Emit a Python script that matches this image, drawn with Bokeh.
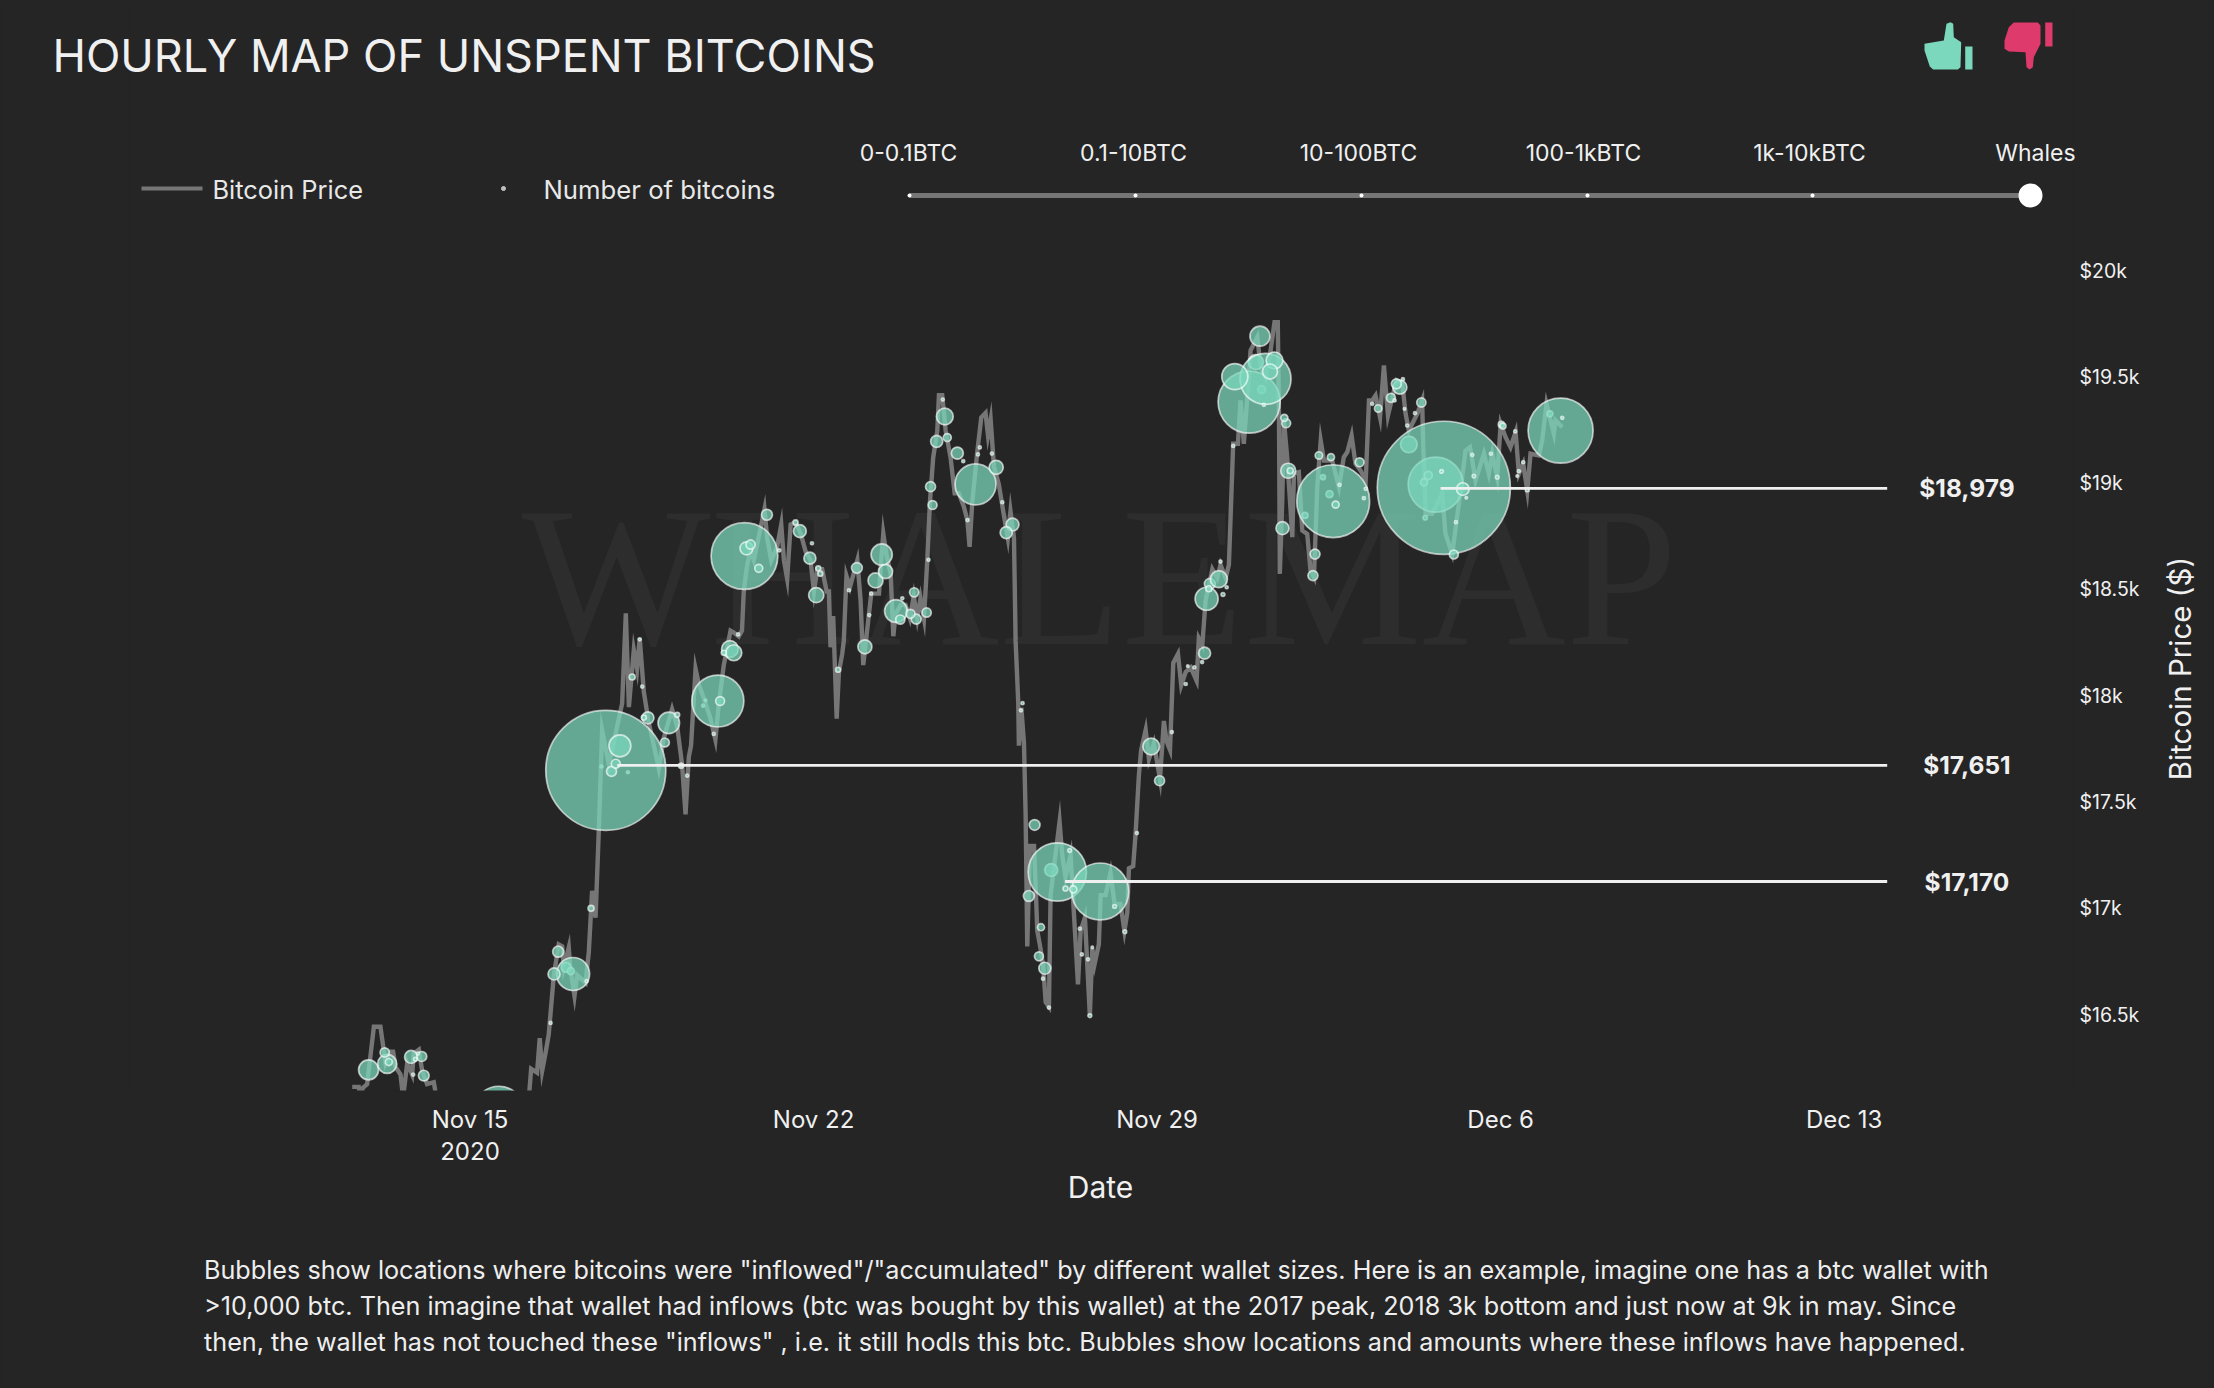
from bokeh.plotting import figure
from bokeh.models import Range1d, FixedTicker, Label
from bokeh.core.properties import value
from bokeh.embed import file_html
from bokeh.resources import INLINE
from datetime import datetime, timezone
import math

BG = "#252525"
GREEN = "#7bd8bd"
RED = "#de3a6c"
GREY = "#767676"
TXT = "#f0f0f0"
FONT = "Inter"

# ---- data: price line (hours since 15 Nov 2020 00:00 UTC, USD)
price_hours = [-57.6,-54.4,-53.5,-52.4,-50.3,-47,-43.8,-41.3,-38.9,-37.6,-36.4,-34,-32.7,-30.7,-28.3,-27.5,-25,-23.4,-21,-17.7,-16.4,-9.5,7,23,28.8,
 29.9,32.8,34.1,35.3,36.9,38.5,41,43.4,45.1,45.9,48.3,49.1,51.1,52.4,56.5,58.1,59.7,61.4,63,64.6,67.9,74.4,76.2,77.7,80.1,81.7,83,85,87.4,89.9,92.3,94.8,98.8,101.3,103.7,105.4,107,108.1,110.3,111.9,115.2,117.6,120,121.7,124.1,127.4,129,131.4,133,133.9,135.5,137.2,
 138.8,142,144,145.3,147.3,150.2,152.2,153.5,155.1,156.8,159.2,161.7,164.1,166.5,168.2,169.8,172.2,174.4,175.5,176.3,177.6,179.3,180.4,182,182.8,184.1,185.8,189.4,191,192.3,193.4,195.1,196.2,200,201.1,202.1,203.7,205.7,207,208.1,210.6,213,215.1,217,218.7,220.3,222,223.6,224.9,226.5,228.5,229.3,230.9,232.6,235,237,239,241.5,243.2,244.3,245.6,248,250,252.1,253.3,254.6,256.2,258.6,261.1,263,264.3,266,266.8,268.1,268.4,269.6,270.9,271.7,272.5,273.8,275.8,276.6,277.4,279,280.3,281.5,283.1,283.9,285.5,288.3,289.6,291.2,293.7,295.3,297.3,298.6,300.7,303.1,304.3,305.4,307.5,308.4,310.8,313.2,315.2,318.1,320,321.4,322.2,324.3,325.5,327.1,328.2,330.4,332,334.4,337.4,339.3,340.6,342.3,343.9,346.2,347.8,350,352.4,355.3,356.4,358.1,359.7,363,365.4,367,369.5,371.1,
 373.2,375.5,376.8,378.4,380,381.7,385,386.6,389,391.5,393.4,395,395.6,396,397.2,398,399.6,402.1,402.9,405.3,407,409.4,411,412.7,414.3,416,417.6,421.6,424.9,427.3,429,431.1,433,435.5,438,439.6,441.2,442.8,445,446.9,448.9,451,453.1,455.9,457.5,459.1,463.2,465.6,466.1,467.3,470.5,475.4,477,480.3,484.4,486.8,489,491.7,495.8,498.2,499.9,502.3,504,506.4,508.8,511.3,512.9,515,517,518.6,522.7,524.3,526.4,530,530.8,534.1]
price_usd = [16160,16160,16100,16155,16173,16443,16443,16272,16326,16326,16254,16218,16110,16272,16218,16317,16335,16236,16173,16182,16110,15948,15858,15950,16110,
 16245,16227,16389,16236,16317,16407,16686,16830,16821,16722,16816,16713,16587,16686,16650,16794,17082,16956,17370,17838,17676,17964,18387,17946,18216,18126,18270,18018,17874,17766,17658,17802,17937,17856,17676,17442,17712,17766,18126,18054,17964,17892,17793,17964,18144,18306,18297,18279,18306,18495,18612,18684,
 18637,18784,18878,18742,18637,18700,18805,18637,18549,18805,18815,18763,18679,18637,18490,18595,18595,18490,18490,18228,18375,17892,18112,18196,18259,18564,18511,18637,18448,18144,18238,18385,18480,18480,18637,18763,18658,18574,18280,18385,18427,18427,18364,18469,18364,18458,18364,18637,18910,19120,19246,19414,19414,19246,19120,18952,18952,18889,18826,18700,18910,19141,19309,19330,19225,19298,19078,18994,18847,18742,18868,18742,18259,17965,17765,17944,17776,17440,16820,17293,17293,17104,16894,16810,16726,16558,16537,17062,17188,17408,17251,17146,17251,16978,16642,16894,16957,16495,16810,16736,16831,17062,17062,17167,17020,17020,16894,16978,17188,17198,17356,17629,17745,17839,17702,17776,17608,17881,17786,17745,18154,18196,18049,18112,18133,18070,18270,18238,18448,18595,18553,18616,18553,18616,
 19185,19185,19389,19185,19389,19624,19686,19545,19498,19624,19757,19757,19310,18573,18918,19295,19122,18746,19044,19051,18777,18761,18589,18558,18981,19200,19106,19106,18981,19122,19146,19224,19091,19059,19012,19389,19389,19412,19310,19553,19318,19404,19483,19467,19326,19247,19326,19389,19185,18856,18856,18950,18761,18667,18965,19153,19169,19012,19138,19044,19138,19028,19279,19216,19169,19240,19044,19091,18965,19138,19130,19200,19373,19232,19295,19263]

# ---- data: bubbles (hour, USD, BTC amount)
bubble_hours = [66.4,476.2,134.2,533.3,422.1,381,287.2,308.2,121.2,472.2,389,14.1,247.2,50.4,
 374,360.2,208.3,73.3,97.2,201.3,-49.6,-40.5,232.2,127.1,129,333.1,366.2,384.3,391.2,393.4,386.3,400.1,459.1,
 135.2,-28.8,284.2,69.2,71.3,137.2,454.7,453,169.3,193.1,203.2,198.3,397.3,228.2,238.3,257.3,265.3,262.2,281.1,359.2,161.3,166.2,
 145.2,189.2,276.1,273.3,361.8,87,43.1,41.1,-22.6,-23.6,413.2,412.2,337.2,225.2,218.2,47,415.1,421,423.3,420.3,450.3,435,399.1,465.2,481.1,387.1,444.1,226.2,
 217.2,215.4,210.4,223.3,95.3,122.3,-41.7,278.2,279.2,233.4,398.2,468.6,466.5,295,49.3,-39.7,79.3,59.2,408.3,401.1,361.3,504.3,505.1,528.1,
 103.2,85,101.3,124.1,159.2,170.3,171.3,180,291.2,417.1,467.1,141.2,
 64.3,77.2,106.2,84.2,83,115.2,114,119.2,131.1,151.2,57,39.4,-27.8,-26.7,-25.5,167.2,185.3,196.2,195.2,211.4,224.2,231.2,241.2,243.3,248.4,249.3,255.2,260.3,269.4,270.2,280.2,283.1,293.2,298.2,299.2,302.2,303.1,304.3,315.2,320.2,326.1,343.2,358,350,351,354.2,
 373.2,388.2,368.2,370,367,425.2,437.1,438,456.2,441.2,452.1,457,458.3,462.1,490.1,499.2,490.9,502.3,475.1,487.2,482.1,511.1,512.9,512.1,515,517,534.1,485.5]
bubble_usd = [17649,18978,18657,19247,18915,19381,17171,17079,17975,18993,19490,16043,18994,16691,
 19501,18456,18398,17764,17872,18664,16240,16268,19313,18220,18202,17761,18548,19569,19525,19577,19691,19058,19182,
 18693,16301,17180,17644,17680,18711,19451,19467,18473,18230,18584,18542,18788,19196,19141,19074,18805,18767,16718,18200,18774,18647,
 18851,18601,17392,17058,18526,17896,16796,16691,16213,16303,18666,18565,17600,18983,18360,16722,19130,19122,18899,18948,19401,19098,19282,19379,18664,19440,19351,18897,
 18486,18385,18358,18391,17780,17975,16322,16774,16911,19214,19307,19036,19004,17089,16704,16277,18088,17000,18848,19058,18503,19276,19268,19326,
 17671,17897,17910,18202,18815,18599,18574,18122,17093,19028,18837,18599,
 17667,17640,17624,18043,18265,17978,17953,17820,18288,18684,16657,16461,16218,16290,16317,18717,18496,18480,18379,18458,18639,19393,19103,18826,19135,19168,19139,18910,17931,17965,16669,16533,17272,16904,16783,16760,16495,16816,17009,16890,17354,17829,18158,18055,18139,18133,
 19175,19368,18476,18510,18631,18992,18929,18973,19489,19373,19389,19349,19271,19329,19133,19138,19033,19028,19055,18931,18816,19243,19056,19033,19098,18968,19307,18972]
bubble_btc = [14400,17700,4450,4225,5300,3850,3400,3250,2700,3025,2600,2600,1680,1090,
 680,530,520,480,460,450,400,360,280,280,255,280,290,225,225,280,400,225,280,
 170,170,170,100,80,85,196,100,230,196,200,225,170,145,145,200,165,145,145,145,165,145,
 120,115,115,120,120,145,120,145,115,100,100,100,100,100,100,100,55,50,50,50,80,80,80,85,80,64,55,80,
 85,80,85,85,80,80,85,80,50,64,50,64,50,50,50,50,36,36,36,36,36,36,36,36,
 25,25,25,25,25,25,25,25,25,25,20,64,
 9,9,9,9,9,6,9,9,9,9,9,9,9,14,9,9,9,9,9,9,9,9,9,9,9,9,9,9,9,9,9,9,14,9,9,9,14,6,14,14,9,9,9,9,6,9,
 9,9,14,9,9,9,9,9,9,9,9,6,9,9,9,9,12,12,12,6,9,9,9,6,9,14,9,160]
# bubbles that were plotted earlier and sit under a larger one (by hour)
earlier_bubble_hours = {472.2, 459.1, 284.2, 468.6, 466.5, 420.3, 417.1, 408.3, 528.1, 467.1, 47, 49.3,
                        64.3, 77.2, 114, 115.2, 384.3, 387.1, 361.8}

# ---- data: marked levels
level_start_hours = [474.6, 72.0, 291.0]
level_end_hours = [693.0, 693.0, 693.0]
level_line_usd = [18975, 17672, 17126]
level_labels = ["$18,979", "$17,651", "$17,170"]
level_label_hours = [732.0, 732.0, 732.0]

# ---- data: axes
x_tick_hours = [0, 168, 336, 504, 672]
x_tick_labels = ["Nov 15", "Nov 22", "Nov 29", "Dec 6", "Dec 13"]
y_ticks = [16500, 17000, 17500, 18000, 18500, 19000, 19500, 20000]
y_tick_labels = ["$16.5k", "$17k", "$17.5k", "$18k", "$18.5k", "$19k", "$19.5k", "$20k"]

# ---- data: header
slider_labels = ["0-0.1BTC", "0.1-10BTC", "10-100BTC", "100-1kBTC", "1k-10kBTC", "Whales"]
note_lines = [
    'Bubbles show locations where bitcoins were "inflowed"/"accumulated" by different wallet sizes. Here is an example, imagine one has a btc wallet with',
    '>10,000 btc. Then imagine that wallet had inflows (btc was bought by this wallet) at the 2017 peak, 2018 3k bottom and just now at 9k in may. Since',
    'then, the wallet has not touched these "inflows" , i.e. it still hodls this btc. Bubbles show locations and amounts where these inflows have happened.',
]

BASE_MS = datetime(2020, 11, 15, tzinfo=timezone.utc).timestamp() * 1000
def ms(h):
    return BASE_MS + h * 3600000.0

# scales of the one frame (page pixels <-> data), used only for page furniture
LEFT, RIGHT, BOTTOM = 128, 2072, 1090
H_PER_PX = 1 / 2.045
USD_PER_PX = 4.7037
def fx(px):
    return ms((px - 469.5) * H_PER_PX)
def fy(py):
    return 20000 - (py - 270) * USD_PER_PX
def fxs(a):
    return [fx(v) for v in a]
def fys(a):
    return [fy(v) for v in a]

p = figure(width=2214, height=1388, x_axis_type="datetime", y_axis_location="right",
           x_range=Range1d(fx(LEFT), fx(RIGHT)), y_range=Range1d(fy(BOTTOM), fy(0)),
           toolbar_location=None, output_backend="svg",
           min_border_left=LEFT, min_border_right=2214 - RIGHT, min_border_top=0, min_border_bottom=1388 - BOTTOM)
p.background_fill_color = BG
p.border_fill_color = BG
p.outline_line_color = None
p.grid.visible = False

# watermark
p.text([fx(1099)], [fy(576)], text=["WHALEMAP"], text_font=value("Liberation Serif"), text_font_size="200px",
       text_color="#2d2d2d", text_align="center", text_baseline="alphabetic")

# price and bubbles
p.line([ms(h) for h in price_hours], price_usd, line_color=GREY, line_width=4.4, line_join="miter")
order = sorted(range(len(bubble_btc)),
               key=lambda i: (bubble_hours[i] not in earlier_bubble_hours, -bubble_btc[i]))
p.scatter([ms(bubble_hours[i]) for i in order], [bubble_usd[i] for i in order],
          size=[bubble_btc[i] ** 0.5 for i in order], marker="circle",
          fill_color=GREEN, fill_alpha=0.73, line_color="white", line_alpha=0.65, line_width=1.7)
for s, e, y in zip(level_start_hours, level_end_hours, level_line_usd):
    p.line([ms(s), ms(e)], [y, y], line_color="#f0f0f0", line_width=2.8)
p.text([ms(h) for h in level_label_hours], level_line_usd, text=level_labels, text_font=value(FONT),
       text_font_style="bold", text_font_size="24.5px", text_color=TXT, text_align="center", text_baseline="middle")

# legend and wallet-size slider
p.line(fxs([141, 202]), fys([188, 188]), line_color=GREY, line_width=4)
p.text(fxs([212]), fys([189]), text=["Bitcoin Price"], text_font=value(FONT), text_font_size="25.4px",
       text_color="#e8e8e8", text_baseline="middle")
p.scatter(fxs([503]), fys([188]), size=4, fill_color="#bbbbbb", line_color="#cccccc", line_width=1)
p.text(fxs([543]), fys([189]), text=["Number of bitcoins"], text_font=value(FONT), text_font_size="25.7px",
       text_color="#e8e8e8", text_baseline="middle")
p.line(fxs([909, 2030]), fys([195, 195]), line_color=GREY, line_width=5)
p.scatter(fxs([909, 1135, 1361, 1587, 1812]), fys([195] * 5), size=4, fill_color="white", line_color=None)
p.scatter(fxs([2030]), fys([195]), size=24, fill_color="white", line_color=None)
p.text(fxs([908, 1133, 1358, 1583, 1809]), fys([152] * 5), text=slider_labels[:5], text_font=value(FONT),
       text_font_size="23px", text_color=TXT, text_align="center", text_baseline="middle")

# thumbs
p.patch(fxs([1924, 1943.3, 1946, 1950, 1952.7, 1953.3, 1960.7, 1960, 1957.3, 1932.7, 1929.3, 1924]),
        fys([43.3, 40, 23.3, 21.7, 23.3, 36.7, 41.7, 66.7, 69, 69, 66, 50]), fill_color=GREEN, line_color=None)
p.patch(fxs([1964.7, 1972, 1972, 1964.7]), fys([46, 46, 69, 69]), fill_color=GREEN, line_color=None)
p.patch(fxs([2004, 2004, 2008.3, 2013.3, 2037.3, 2040, 2040, 2033.3, 2032.3, 2029.3, 2026, 2025, 2008.3]),
        fys([48.3, 40, 26.7, 22, 22, 25, 43.3, 56.7, 66.7, 69, 66.7, 51.7, 51]), fill_color=RED, line_color=None)
p.patch(fxs([2044.7, 2052, 2052, 2044.7]), fys([22, 22, 46, 46]), fill_color=RED, line_color=None)

# axes
xa = p.xaxis[0]
xa.ticker = FixedTicker(ticks=[ms(h) for h in x_tick_hours])
xa.major_label_overrides = {ms(h): t for h, t in zip(x_tick_hours, x_tick_labels)}
xa.axis_line_color = None
xa.major_tick_line_color = None
xa.minor_tick_line_color = None
xa.major_label_text_font = FONT
xa.major_label_text_font_size = "24px"
xa.major_label_text_color = TXT
xa.major_label_standoff = 8

ya = p.yaxis[0]
ya.ticker = FixedTicker(ticks=y_ticks)
ya.major_label_overrides = dict(zip(y_ticks, y_tick_labels))
ya.axis_line_color = None
ya.major_tick_line_color = None
ya.minor_tick_line_color = None
ya.major_label_text_font = FONT
ya.major_label_text_font_size = "19.5px"
ya.major_label_text_color = TXT
ya.major_label_standoff = 1

def label(x, y, text, size, side="below", **kw):
    opts = dict(text_font=FONT, text_font_size=size, text_color=TXT, text_align="center", text_baseline="middle")
    opts.update(kw)
    p.add_layout(Label(x=fx(x), y=fy(y), text=text, **opts), side)

label(2035, 152, slider_labels[5], "23px")
label(469.5, 1150, "2020", "24px")
label(1100, 1186, "Date", "30px")
label(2179, 668, "Bitcoin Price ($)", "29.5px", side="right", angle=math.pi / 2)
label(52, 55, "HOURLY MAP OF UNSPENT BITCOINS", "45px", text_align="left")
for py, line in zip([1269.4, 1305, 1341], note_lines):
    label(203.5, py, line, "25.2px", text_align="left", text_color="#eeeeee")

html = file_html(p, INLINE)
html = html.replace("<head>", '<head><style>html,body{background:%s}</style>' % BG)
open("out.html", "w").write(html)
